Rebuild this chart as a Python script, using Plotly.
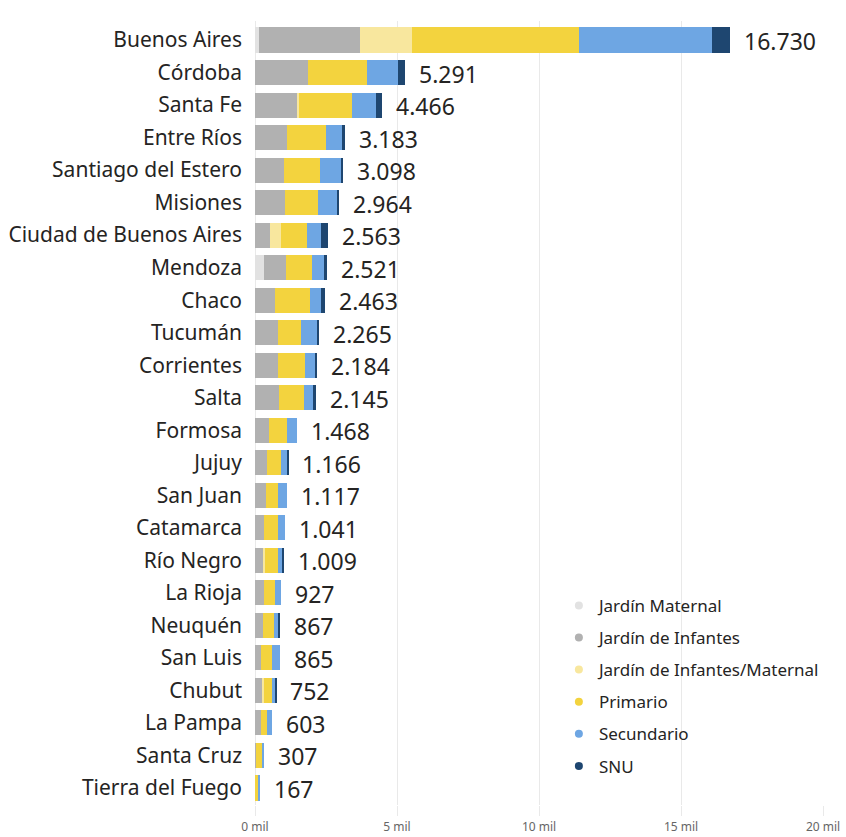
import plotly.graph_objects as go

provincias = ["Buenos Aires", "Córdoba", "Santa Fe", "Entre Ríos", "Santiago del Estero",
              "Misiones", "Ciudad de Buenos Aires", "Mendoza", "Chaco", "Tucumán",
              "Corrientes", "Salta", "Formosa", "Jujuy", "San Juan", "Catamarca",
              "Río Negro", "La Rioja", "Neuquén", "San Luis", "Chubut", "La Pampa",
              "Santa Cruz", "Tierra del Fuego"]

jardin_maternal = [150, 0, 0, 0, 0, 0, 0, 300, 0, 0, 0, 0, 0, 0, 0, 0, 0, 0, 0, 0, 0, 0, 0, 0]
jardin_infantes = [3550, 1860, 1480, 1130, 1010, 1040, 520, 800, 690, 800, 800, 840, 480, 420,
                   375, 315, 315, 305, 280, 225, 280, 200, 20, 0]
jardin_inf_mat = [1820, 0, 80, 0, 0, 0, 405, 0, 0, 0, 0, 0, 0, 0, 0, 0, 30, 0, 0, 0, 20, 0, 0, 0]
primario = [5880, 2100, 1840, 1380, 1280, 1190, 890, 900, 1250, 810, 950, 890, 640, 495,
            445, 480, 470, 395, 395, 375, 285, 210, 215, 120]
secundario = [4680, 1060, 860, 555, 750, 640, 515, 430, 375, 595, 345, 320, 348, 216,
              297, 246, 154, 227, 147, 265, 127, 193, 72, 47]
snu = [650, 271, 206, 118, 58, 94, 233, 91, 148, 60, 89, 95, 0, 35, 0, 0, 40, 0, 45, 0, 40, 0, 0, 0]
totales = [16730, 5291, 4466, 3183, 3098, 2964, 2563, 2521, 2463, 2265, 2184, 2145, 1468,
           1166, 1117, 1041, 1009, 927, 867, 865, 752, 603, 307, 167]

tick_vals = [0, 5000, 10000, 15000, 20000]
tick_text = ["0 mil", "5 mil", "10 mil", "15 mil", "20 mil"]

series = [
    ("Jardín Maternal", jardin_maternal, "#e2e2e2"),
    ("Jardín de Infantes", jardin_infantes, "#b1b1b1"),
    ("Jardín de Infantes/Maternal", jardin_inf_mat, "#f8e79e"),
    ("Primario", primario, "#f3d33e"),
    ("Secundario", secundario, "#6ea6e3"),
    ("SNU", snu, "#1e4670"),
]

FONT = "Noto Sans"
fig = go.Figure()
for name, vals, color in series:
    fig.add_trace(go.Bar(y=provincias, x=vals, orientation="h", name=name,
                         marker=dict(color=color, line=dict(width=0)),
                         showlegend=False, hoverinfo="x+name"))
for i, (name, vals, color) in enumerate(series):
    fig.add_trace(go.Scatter(x=[None], y=[None], mode="markers", name=name,
                             legendgroup=f"g{i}",
                             marker=dict(color=color, size=8, symbol="circle")))

for p, t in zip(provincias, totales):
    fig.add_annotation(x=t, y=p, text=f"{t:,}".replace(",", "."), showarrow=False,
                       xanchor="left", xshift=12, yshift=-1,
                       font=dict(family=FONT, size=23, color="#252423"))

fig.update_layout(
    template="none",
    barmode="stack",
    bargap=0.23,
    width=846, height=837,
    margin=dict(l=255, r=23, t=21, b=32, autoexpand=False),
    plot_bgcolor="white", paper_bgcolor="white",
    font=dict(family=FONT),
    legend=dict(x=0.535, y=0.277, xanchor="left", yanchor="top",
                font=dict(family=FONT, size=17, color="#252423"),
                tracegroupgap=7, itemwidth=30, bgcolor="rgba(0,0,0,0)"),
    xaxis=dict(range=[0, 20000], tickvals=tick_vals, ticktext=tick_text,
               showgrid=True, gridcolor="#e9e9e9", gridwidth=1,
               zeroline=True, zerolinecolor="#e9e9e9", showline=False,
               ticks="outside", ticklen=10, tickcolor="#e9e9e9",
               tickfont=dict(family=FONT, size=12, color="#666666"),
               ticklabelstandoff=1, ticklabeloverflow="allow",
               automargin=False, fixedrange=True),
    yaxis=dict(autorange="reversed", showgrid=False, showline=False, zeroline=False,
               ticks="",
               tickfont=dict(family=FONT, size=21, color="#252423"),
               ticklabelstandoff=12, automargin=False, fixedrange=True),
)

fig.write_html("out.html", config={"displayModeBar": False},
               post_script="document.body.style.margin='0';document.body.style.overflow='hidden';")
